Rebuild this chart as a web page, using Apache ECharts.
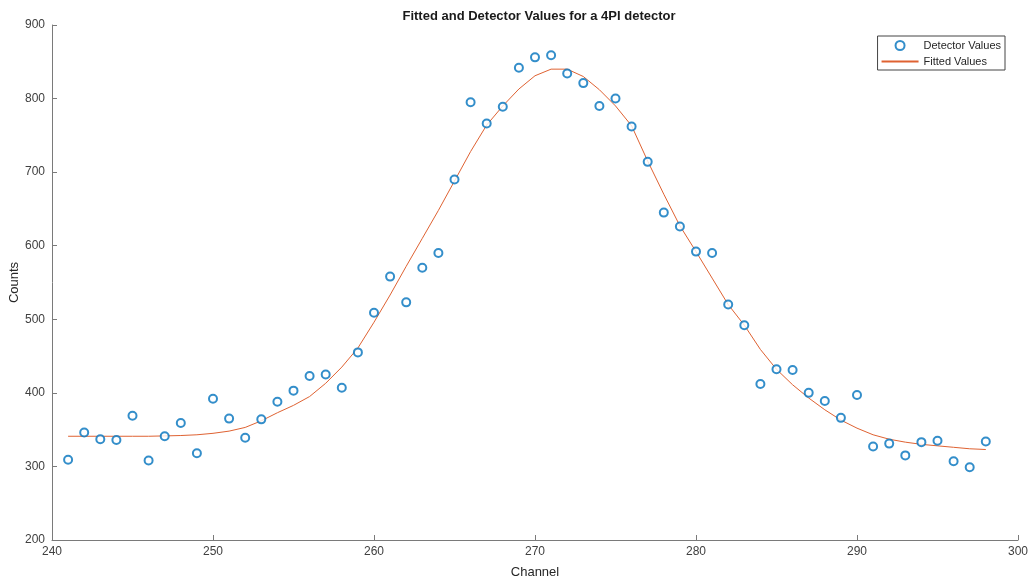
<!DOCTYPE html>
<html>
<head>
<meta charset="utf-8">
<script src="https://cdn.jsdelivr.net/npm/echarts@6/dist/echarts.min.js"></script>
<style>
html,body{margin:0;padding:0;background:#fff;}
#chart{width:1029px;height:580px;}
</style>
</head>
<body>
<div id="chart"></div>
<script>
const channels = [241,242,243,244,245,246,247,248,249,250,251,252,253,254,255,256,257,258,259,260,261,262,263,264,265,266,267,268,269,270,271,272,273,274,275,276,277,278,279,280,281,282,283,284,285,286,287,288,289,290,291,292,293,294,295,296,297,298];
const detectorValues = [309,346,337,336,369,308,341,359,318,392,365,339,364,388,403,423,425,407,455,509,558,523,570,590,690,795,766,789,842,856,859,834,821,790,800,762,714,645,626,592,590,520,492,412,432,431,400,389,366,397,327,331,315,333,335,307,299,334];
const fittedValues = [341,341,341,341,341,341,341.5,342,343,345,348,353,362,373,383,395,413,435,461,496,533,572,610,648,688,728,764,790,813,831,840,840,830,812,790,763,715,670,627,592,556,520,492,459,432,411,393,377,363,352,343,337,333,330,328,326,324,323];
const xTicks = {min:240, max:300, interval:10};
const yTicks = {min:200, max:900, interval:100};

const chart = echarts.init(document.getElementById('chart'), null, {renderer:'canvas'});
const font = 'Liberation Sans, Arial, Helvetica, sans-serif';
const axisCommon = {
  axisLine:{show:true, lineStyle:{color:'#7a7a7a', width:1}},
  axisTick:{show:true, inside:true, length:5, lineStyle:{color:'#7a7a7a'}},
  splitLine:{show:false},
  axisLabel:{color:'#404040', fontSize:12, fontFamily:font},
  nameTextStyle:{color:'#262626', fontSize:13, fontFamily:font},
  nameMoveOverlap:false
};
chart.setOption({
  animation:false,
  backgroundColor:'#fff',
  title:{
    text:'Fitted and Detector Values for a 4PI detector',
    left:534, top:5, textAlign:'center',
    textStyle:{fontSize:13, fontWeight:'bold', color:'#1a1a1a', fontFamily:font}
  },
  legend:{
    right:24, top:36, orient:'vertical',
    itemWidth:37, itemHeight:9, itemGap:5,
    padding:[4,4,3,3],
    borderColor:'#444', borderWidth:1,
    textStyle:{fontSize:11, color:'#262626', fontFamily:font},
    data:[
      {name:'Detector Values', icon:'emptyCircle'},
      {name:'Fitted Values', itemStyle:{opacity:0}}
    ]
  },
  grid:{left:52, right:11, top:25, bottom:40, outerBoundsMode:'none', containLabel:false},
  xAxis:Object.assign({}, axisCommon, {
    type:'value', min:xTicks.min, max:xTicks.max, interval:xTicks.interval,
    name:'Channel', nameLocation:'middle', nameGap:26,
    axisLabel:Object.assign({}, axisCommon.axisLabel, {margin:6})
  }),
  yAxis:Object.assign({}, axisCommon, {
    type:'value', min:yTicks.min, max:yTicks.max, interval:yTicks.interval,
    name:'Counts', nameLocation:'middle', nameGap:31,
    axisLabel:Object.assign({}, axisCommon.axisLabel, {margin:7})
  }),
  series:[
    {
      name:'Detector Values', type:'scatter',
      data:channels.map((c,i)=>[c, detectorValues[i]]),
      symbol:'emptyCircle', symbolSize:8,
      itemStyle:{color:'#0072BD', borderColor:'#0072BD', borderWidth:1},
      z:3
    },
    {
      name:'Fitted Values', type:'line',
      data:channels.map((c,i)=>[c, fittedValues[i]]),
      showSymbol:false, symbol:'none', smooth:false,
      lineStyle:{color:'#DF6232', width:1},
      itemStyle:{color:'#DF6232'},
      z:2
    }
  ]
});
</script>
</body>
</html>
